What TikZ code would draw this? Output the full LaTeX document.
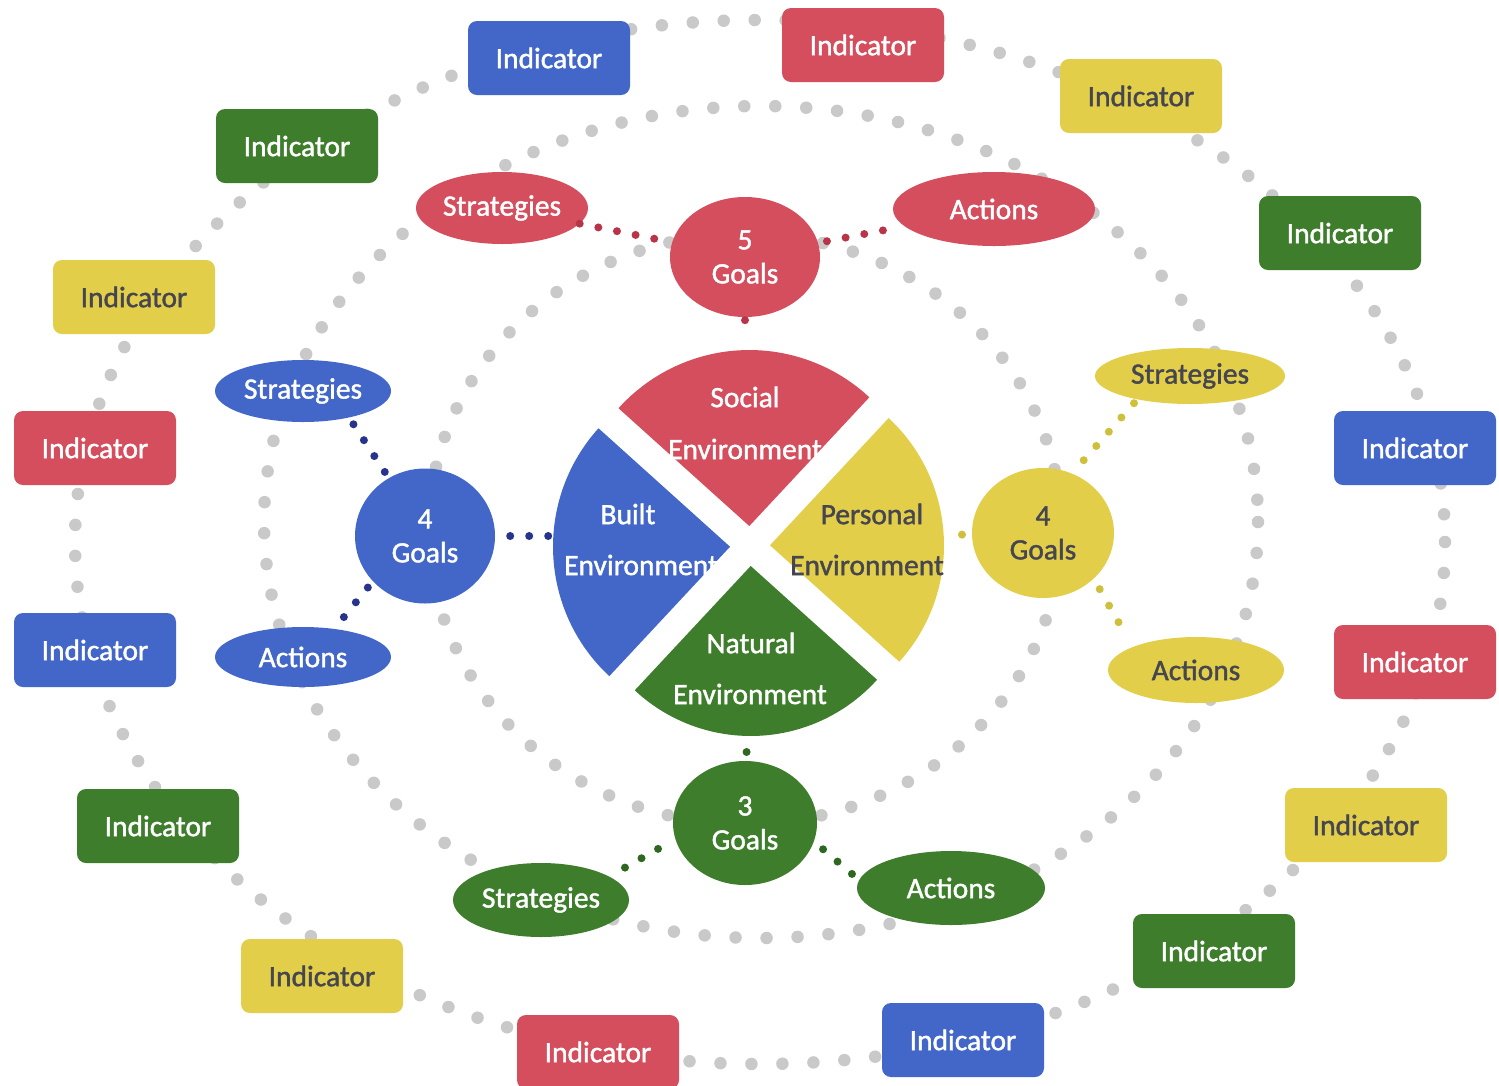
\documentclass[tikz,border=0pt]{standalone}
\usepackage{fontspec}
\setmainfont{Carlito}
\newfontfamily\lblfont{Carlito}[FakeBold=1.4]
\usetikzlibrary{shapes.geometric,calc}

\definecolor{cRed}{RGB}{212,78,94}
\definecolor{cBlue}{RGB}{66,103,200}
\definecolor{cGreen}{RGB}{62,125,44}
\definecolor{cYellow}{RGB}{226,206,72}
\definecolor{ringgray}{RGB}{201,201,201}
\definecolor{darktext}{RGB}{70,70,80}
\definecolor{redlink}{RGB}{186,52,72}
\definecolor{bluelink}{RGB}{40,52,140}
\definecolor{greenlink}{RGB}{46,104,32}
\definecolor{yellowlink}{RGB}{206,192,58}

\tikzset{
  lbl/.style={font=\lblfont\fontsize{29.5}{34}\selectfont, text=white},
  indbox/.style={lbl, rectangle, rounded corners=9pt, minimum width=162pt,
                 minimum height=74pt, inner sep=0pt},
  oval/.style={lbl, ellipse, inner sep=0pt},
  goal/.style={lbl, ellipse, inner sep=0pt, align=center},
  ylw/.style={fill=cYellow, text=darktext},
  ring/.style={ringgray, line width=12.5pt, line cap=round, dash pattern=on 0pt off 31pt},
  link/.style={line width=8pt, line cap=round, dash pattern=on 0pt off 19pt},
}

\begin{document}
\begin{tikzpicture}[x=1pt, y=-1pt]
% canvas
\useasboundingbox (0,0) rectangle (1499,1085);
\fill[white] (0,0) rectangle (1499,1085);

% dotted rings
\draw[ring] (760,542) ellipse [x radius=685, y radius=522];
\draw[ring] (761,522) ellipse [x radius=497, y radius=416];
\draw[ring] (745,529) ellipse [x radius=316, y radius=295];

% exploded pie of the four environments
\coordinate (C) at (750,546);
\fill[cRed]    ($(C)+(92:20pt)$)  -- ++(47:176pt)  arc[start angle=47,  end angle=138, radius=176pt] -- cycle;
\fill[cBlue]   ($(C)+(182:20pt)$) -- ++(138:177pt) arc[start angle=138, end angle=227, radius=177pt] -- cycle;
\fill[cGreen]  ($(C)+(272:20pt)$) -- ++(227:170pt) arc[start angle=227, end angle=318, radius=170pt] -- cycle;
\fill[cYellow] ($(C)+(2:20pt)$)   -- ++(-42:174pt) arc[start angle=-42, end angle=47,  radius=174pt] -- cycle;

\coordinate (socTop) at (745,352);
\coordinate (builtLeft) at (553,536);
\coordinate (persRight) at (943,535);
\coordinate (natBottom) at (747,733);

\node[lbl] (soc1) at (745,397) {Social};
\node[lbl] (soc2) at (745,449) {Environment};
\node[lbl] (bui1) at (628,514) {Built};
\node[lbl] (bui2) at (641,565) {Environment};
\node[lbl, text=darktext] (per1) at (872,514) {Personal};
\node[lbl, text=darktext] (per2) at (867,565) {Environment};
\node[lbl] (nat1) at (751,643) {Natural};
\node[lbl] (nat2) at (750,694) {Environment};

% goals
\node[goal, fill=cRed,   minimum width=150pt, minimum height=120pt] (g5)  at (745,257) {5\\Goals};
\node[goal, fill=cBlue,  minimum width=140pt, minimum height=135pt] (g4b) at (425,536) {4\\Goals};
\node[goal, ylw,         minimum width=142pt, minimum height=130pt] (g4y) at (1043,533) {4\\Goals};
\node[goal, fill=cGreen, minimum width=144pt, minimum height=124pt] (g3)  at (745,823) {3\\Goals};

% strategies and actions
\node[oval, fill=cRed,   minimum width=172pt, minimum height=72pt] (s5)  at (502,208) {Strategies};
\node[oval, fill=cRed,   minimum width=202pt, minimum height=74pt] (a5)  at (994,209) {Actions};
\node[oval, fill=cBlue,  minimum width=176pt, minimum height=62pt] (s4b) at (303,391) {Strategies};
\node[oval, fill=cBlue,  minimum width=176pt, minimum height=60pt] (a4b) at (303,657) {Actions};
\node[oval, ylw,         minimum width=190pt, minimum height=56pt] (s4y) at (1190,376) {Strategies};
\node[oval, ylw,         minimum width=176pt, minimum height=66pt] (a4y) at (1196,670) {Actions};
\node[oval, fill=cGreen, minimum width=176pt, minimum height=74pt] (s3)  at (541,900) {Strategies};
\node[oval, fill=cGreen, minimum width=188pt, minimum height=74pt] (a3)  at (951,888) {Actions};

% indicators on the outer ring
\node[indbox, fill=cBlue]   (i1)  at (549,58)   {Indicator};
\node[indbox, fill=cRed]    (i2)  at (863,45)   {Indicator};
\node[indbox, ylw]          (i3)  at (1141,96)  {Indicator};
\node[indbox, fill=cGreen]  (i4)  at (1340,233) {Indicator};
\node[indbox, fill=cBlue]   (i5)  at (1415,448) {Indicator};
\node[indbox, fill=cRed]    (i6)  at (1415,662) {Indicator};
\node[indbox, ylw]          (i7)  at (1366,825) {Indicator};
\node[indbox, fill=cGreen]  (i8)  at (1214,951) {Indicator};
\node[indbox, fill=cBlue]   (i9)  at (963,1040) {Indicator};
\node[indbox, fill=cRed]    (i10) at (598,1052) {Indicator};
\node[indbox, ylw]          (i11) at (322,976)  {Indicator};
\node[indbox, fill=cGreen]  (i12) at (158,826)  {Indicator};
\node[indbox, fill=cBlue]   (i13) at (95,650)   {Indicator};
\node[indbox, fill=cRed]    (i14) at (95,448)   {Indicator};
\node[indbox, ylw]          (i15) at (134,297)  {Indicator};
\node[indbox, fill=cGreen]  (i16) at (297,146)  {Indicator};

% dotted links
\draw[link, redlink, shorten >=18pt] (s5) -- (g5);
\draw[link, redlink, shorten <=9pt, shorten >=10pt] (g5) -- (a5);
\draw[link, redlink, shorten <=3pt, shorten >=20pt] (g5) -- (socTop);

\draw[link, bluelink, shorten <=8pt] (s4b.-30) -- (g4b.122);
\draw[link, bluelink, shorten <=8pt] (g4b.221) -- (a4b.42);
\draw[link, bluelink, shorten <=15pt] (g4b.east) -- (builtLeft);

\draw[link, yellowlink, shorten <=5pt] (s4y.204) -- (g4y.64);
\draw[link, yellowlink, shorten <=12pt, shorten >=20pt] (g4y.-42) -- (a4y.160);
\draw[link, yellowlink, shorten <=19pt] (persRight) -- (g4y);

\draw[link, greenlink, shorten <=18pt, shorten >=10pt] (s3.19) -- (g3.193);
\draw[link, greenlink, shorten <=12pt] (g3.-15) -- (a3.175);
\draw[link, greenlink, shorten <=19pt] (natBottom) -- (g3);
\end{tikzpicture}
\end{document}
